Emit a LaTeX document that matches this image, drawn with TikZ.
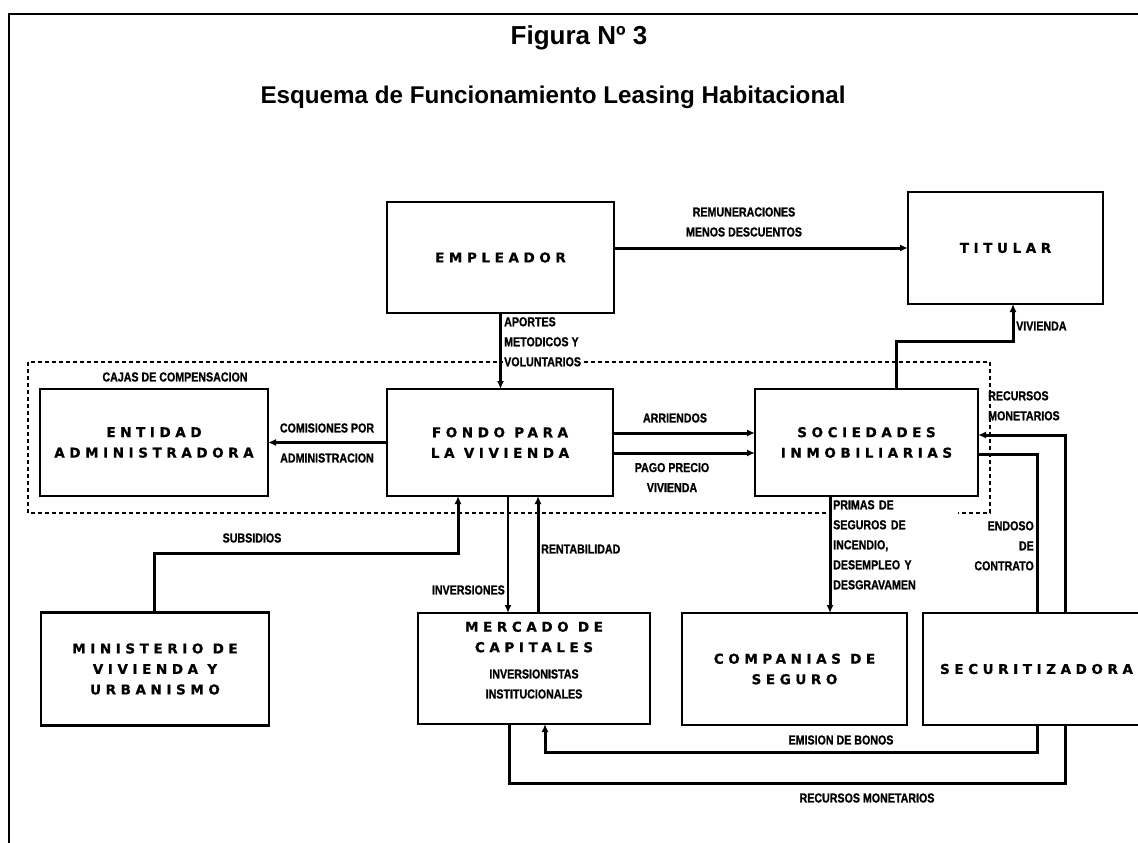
\documentclass[tikz,border=0pt]{standalone}
\usepackage{fontspec}
\setmainfont{Liberation Sans}
\newfontfamily\titlefam{Liberation Sans}
\newfontfamily\boxfam[LetterSpace=34,FakeBold=0.8]{DejaVu Sans}
\newfontfamily\lblfam[FakeStretch=0.82,FakeBold=1]{Liberation Sans}
\newcommand\ttlfnt{\titlefam\bfseries\fontsize{24.2}{29}\selectfont}
\newcommand\boxfnt{\boxfam\bfseries\fontsize{13.5}{20.5}\selectfont}
\newcommand\lblfnt{\lblfam\bfseries\fontsize{13}{20}\selectfont}
\usetikzlibrary{arrows.meta}
\tikzset{
  box/.style={draw, line width=2.2pt, inner sep=0pt, outer sep=0pt, font=\boxfnt, align=center},
  boxtxt/.style={inner sep=0pt, font=\boxfnt, align=center},
  lbl/.style={inner sep=1pt, font=\lblfnt, align=center},
  lblw/.style={lbl, fill=white},
  ttl/.style={inner sep=0pt, font=\ttlfnt},
  conn/.style={line width=3pt},
  thinconn/.style={line width=1.8pt},
  arr/.style={-{Latex[length=8pt,width=7pt]}},
  dashedbox/.style={line width=1.4pt, dash pattern=on 4pt off 3pt},
  frame/.style={line width=1.8pt}
}
\begin{document}
\begin{tikzpicture}[x=1pt,y=-1pt]
\useasboundingbox (0,0) rectangle (1138,843);
\fill[white] (0,0) rectangle (1138,843);
% outer frame
\draw[frame] (9,843) -- (9,14) -- (1138,14);
% titles
\node[ttl, font=\titlefam\bfseries\fontsize{26}{31}\selectfont] (t1) at (579,38) {Figura Nº 3};
\node[ttl] (t2) at (553,97) {Esquema de Funcionamiento Leasing Habitacional};
% dashed region
\draw[dashedbox] (28,362) rectangle (990,513);
\node[lbl] (cajas) at (175,377) {CAJAS DE COMPENSACION};
% boxes
\node[box, minimum width=227pt, minimum height=111pt] (emp) at (500.5,257.5) {EMPLEADOR};
\node[box, minimum width=195pt, minimum height=112pt] (tit) at (1005.5,248) {TITULAR};
\node[box, minimum width=228pt, minimum height=107pt] (ent) at (154,442.5) {ENTIDAD\\ADMINISTRADORA};
\node[box, minimum width=226pt, minimum height=107pt] (fon) at (500,442.5) {FONDO PARA\\LA VIVIENDA};
\node[box, minimum width=223pt, minimum height=107pt] (soc) at (866.5,442.5) {SOCIEDADES\\INMOBILIARIAS};
\node[box, minimum width=228pt, minimum height=113pt] (min) at (155,669) {MINISTERIO DE\\VIVIENDA Y\\URBANISMO};
\node[box, minimum width=232pt, minimum height=111pt] (mer) at (534,668.5) {};
\node[boxtxt] (merT) at (534,637) {MERCADO DE\\CAPITALES};
\node[lbl] (merS) at (534,684) {INVERSIONISTAS\\INSTITUCIONALES};
\node[box, minimum width=225pt, minimum height=112pt] (com) at (794.5,669) {COMPANIAS DE\\SEGURO};
\node[box, minimum width=227pt, minimum height=112pt] (sec) at (1036.5,669) {SECURITIZADORA};
% labels
\node[lbl] (lrem) at (744,222) {REMUNERACIONES\\MENOS DESCUENTOS};
\node[lblw, anchor=north west, align=left] (lapo) at (503,316) {APORTES\\METODICOS Y\\VOLUNTARIOS};
\node[lbl] (lcom1) at (327,428) {COMISIONES POR};
\node[lbl] (lcom2) at (327,458) {ADMINISTRACION};
\node[lbl] (larr) at (675,418) {ARRIENDOS};
\node[lbl] (lpag) at (672,477.5) {PAGO PRECIO\\VIVIENDA};
\node[lbl, anchor=west] (lviv) at (1015,326) {VIVIENDA};
\node[lbl, anchor=north west, align=left] (lrec) at (987,390) {RECURSOS\\MONETARIOS};
\node[lbl] (lsub) at (252,538) {SUBSIDIOS};
\node[lbl, anchor=east] (linv) at (506,590) {INVERSIONES};
\node[lbl, anchor=west] (lren) at (540,549) {RENTABILIDAD};
\node[lblw, anchor=north west, align=left, text width=124pt] (lpri) at (832,499) {PRIMAS DE\\SEGUROS DE\\INCENDIO,\\DESEMPLEO Y\\DESGRAVAMEN};
\node[lbl, anchor=north east, align=right] (lend) at (1035,520) {ENDOSO\\DE\\CONTRATO};
\node[lbl] (lemi) at (841,740) {EMISION DE BONOS};
\node[lbl] (lrm) at (867,798) {RECURSOS MONETARIOS};
% helper coordinates
\coordinate (v1) at (896,341); \coordinate (v2) at (1013,341);
\coordinate (s1) at (154,553); \coordinate (s2) at (458,553);
\coordinate (iv) at (508,0); \coordinate (rt) at (538,0); \coordinate (pr) at (830,0);
\coordinate (e1) at (1037,454); \coordinate (r1) at (1065,435);
\coordinate (b1) at (1037,752); \coordinate (b2) at (545,752);
\coordinate (m1) at (509,783); \coordinate (m2) at (1065,783);
% connectors
\draw[conn,arr] (emp.east |- tit.west) -- (tit.west);
\draw[conn,arr] (emp.south) -- (emp.south |- fon.north);
\draw[conn,arr] (fon.west) -- (ent.east);
\draw[conn,arr] ([yshift=9.5pt]fon.east) -- ([yshift=9.5pt]soc.west);
\draw[conn,arr] ([yshift=-10.5pt]fon.east) -- ([yshift=-10.5pt]soc.west);
\draw[conn,arr] (soc.north -| v1) -- (v1) -- (v2) -- (v2 |- tit.south);
\draw[conn,arr] (min.north -| s1) -- (s1) -- (s2) -- (s2 |- fon.south);
\draw[thinconn,arr] (fon.south -| iv) -- (mer.north -| iv);
\draw[conn,arr] (mer.north -| rt) -- (fon.south -| rt);
\draw[conn,arr] (soc.south -| pr) -- (com.north -| pr);
\draw[conn] (soc.east |- e1) -- (e1) -- (e1 |- sec.north);
\draw[conn,arr] (r1 |- sec.north) -- (r1) -- (r1 -| soc.east);
\draw[conn,arr] (b1 |- sec.south) -- (b1) -- (b2) -- (b2 |- mer.south);
\draw[conn] (m1 |- mer.south) -- (m1) -- (m2) -- (m2 |- sec.south);
\end{tikzpicture}
\end{document}
